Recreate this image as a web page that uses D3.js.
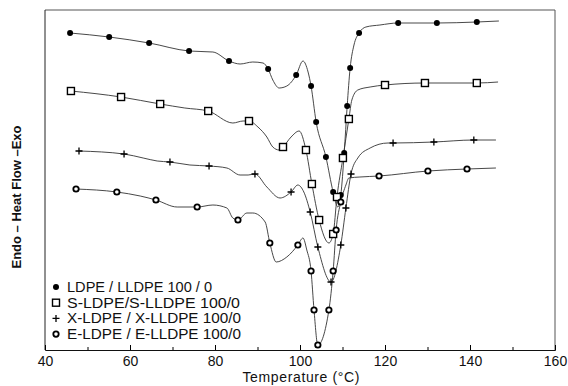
<!DOCTYPE html>
<html>
<head>
<meta charset="utf-8">
<script src="https://cdn.jsdelivr.net/npm/d3@7"></script>
<style>
  body { margin: 0; background: #fff; }
  svg { display: block; font-family: "Liberation Sans", Arial, sans-serif; }
</style>
</head>
<body>
<svg id="chart" width="568" height="386"></svg>
<script>
// DSC traces, temperature (°C) vs heat flow (arbitrary units, curves offset)
const ldpe = [[45.9,317],[55.1,313],[64.5,307],[73.9,299],[79.5,298],[83.3,289],[85.9,286],[88.9,288],[91.3,287],[92.5,281],[93.6,270],[95.1,262],[96.9,264],[99.1,275],[100.7,289],[101.9,278],[102.6,264],[103.8,228],[106.1,193],[107.8,158],[108.9,143],[109.6,155],[110.4,197],[111.1,244],[111.8,282],[112.7,305],[113.9,317],[115.5,323],[118.8,325],[123.1,327],[132.2,327],[141.6,328],[146.8,329]];
const ldpeMarks = [0,1,2,3,5,9,13,16,17,18,19,21,22,23,24,26,29,30,31];

const sLdpe = [[46.1,259],[57.9,253],[67.1,246],[72.9,242],[78.4,239],[84.2,227],[86.6,229],[88.0,229],[90.1,223],[92.2,213],[93.6,203],[95.1,200],[96.0,203],[97.9,213],[99.8,219],[101.4,200],[102.8,166],[104.5,130],[106.8,107],[107.8,116],[108.7,153],[110.1,192],[111.5,231],[112.2,250],[113.6,260],[116.5,263],[120.0,265],[129.4,267],[141.6,267],[146.6,268]];
const sLdpeMarks = [0,1,2,4,7,12,15,16,17,19,20,21,22,26,27,28];

const xLdpe = [[48.0,199],[58.6,196],[63.1,192],[66.4,189],[69.4,188],[74.1,185],[78.6,184],[82.8,182],[85.9,175],[87.8,175],[89.4,176],[92.2,163],[95.3,152],[97.9,158],[99.5,165],[100.9,158],[102.4,138],[104.2,103],[107.3,68],[109.6,105],[110.8,142],[112.0,176],[113.6,192],[116.5,202],[120.7,207],[121.9,207],[131.5,208],[140.9,210],[146.1,210]];
const xLdpeMarks = [0,1,4,6,10,13,16,17,18,19,20,21,25,26,27];

const eLdpe = [[47.3,161],[56.9,158],[62.4,154],[66.1,150],[71.1,143],[75.8,143],[79.5,145],[82.8,142],[84.2,132],[85.4,130],[87.5,137],[88.9,137],[91.8,128],[92.9,107],[94.4,88],[96.9,93],[99.5,105],[100.7,112],[101.6,100],[102.6,79],[103.3,40],[104.2,5],[106.8,40],[107.8,79],[108.5,120],[109.6,148],[110.8,165],[111.5,172],[114.1,173],[118.6,174],[130.1,179],[139.3,181],[146.1,182]];
const eLdpeMarks = [0,1,3,5,9,13,16,19,20,21,22,23,24,25,29,30,31];

const legendLabels = ["LDPE / LLDPE 100 / 0", "S-LDPE/S-LLDPE 100/0", "X-LDPE / X-LLDPE 100/0", "E-LDPE / E-LLDPE 100/0"];
const xTicks = [40, 60, 80, 100, 120, 140, 160];

const series = [
    { data: ldpe, marks: ldpeMarks, symbol: "dot" },
    { data: sLdpe, marks: sLdpeMarks, symbol: "square" },
    { data: xLdpe, marks: xLdpeMarks, symbol: "plus" },
    { data: eLdpe, marks: eLdpeMarks, symbol: "ring" }
];

const svg = d3.select("#chart");
const plotLeft = 45, plotRight = 555, plotTop = 10, plotBottom = 350;

const x = d3.scaleLinear().domain([40, 160]).range([plotLeft, plotRight]);
const y = d3.scaleLinear().domain([0, 340]).range([plotBottom, plotTop]);

// frame
svg.append("line").attr("x1", plotLeft).attr("x2", plotRight).attr("y1", plotTop).attr("y2", plotTop)
    .attr("stroke", "#555").attr("stroke-width", 1);
svg.append("line").attr("x1", plotRight).attr("x2", plotRight).attr("y1", plotTop).attr("y2", plotBottom)
    .attr("stroke", "#555").attr("stroke-width", 1);
svg.append("line").attr("x1", plotLeft).attr("x2", plotLeft).attr("y1", plotTop).attr("y2", plotBottom)
    .attr("stroke", "#222").attr("stroke-width", 1);

// x axis, ticks pointing into the plot
const xAxis = svg.append("g")
    .attr("transform", `translate(0,${plotBottom})`)
    .call(d3.axisBottom(x).tickValues(xTicks).tickSize(-5).tickPadding(6).tickFormat(d3.format("d")));
xAxis.select(".domain").attr("stroke", "#111");
xAxis.selectAll("text").attr("font-size", 14).attr("fill", "#111").attr("font-family", "Liberation Sans, Arial, sans-serif");

svg.append("g")
    .attr("transform", `translate(0,${plotBottom})`)
    .call(d3.axisBottom(x).tickValues(d3.range(50, 160, 20)).tickSize(-3).tickFormat(""))
    .call(g => g.select(".domain").remove());

svg.append("text")
    .attr("x", 301).attr("y", 382)
    .attr("text-anchor", "middle")
    .attr("font-size", 14)
    .attr("fill", "#111")
    .attr("textLength", 117)
    .text("Temperature (°C)");

svg.append("text")
    .attr("transform", "translate(21,197) rotate(-90)")
    .attr("text-anchor", "middle")
    .attr("font-size", 13)
    .attr("font-weight", "bold")
    .attr("fill", "#111")
    .text("Endo – Heat Flow –Exo");

const line = d3.line()
    .x(d => x(d[0]))
    .y(d => y(d[1]))
    .curve(d3.curveMonotoneX);

function drawSymbol(g, kind, cx, cy) {
    if (kind === "dot") {
        g.append("circle").attr("cx", cx).attr("cy", cy).attr("r", 3).attr("fill", "#000");
    } else if (kind === "square") {
        g.append("rect").attr("x", cx - 3.5).attr("y", cy - 3.5).attr("width", 7).attr("height", 7)
            .attr("fill", "#fff").attr("stroke", "#000").attr("stroke-width", 1.4);
    } else if (kind === "plus") {
        g.append("path").attr("d", `M${cx - 3.5},${cy}H${cx + 3.5}M${cx},${cy - 3.5}V${cy + 3.5}`)
            .attr("stroke", "#000").attr("stroke-width", 1.3);
    } else {
        g.append("circle").attr("cx", cx).attr("cy", cy).attr("r", 2.7)
            .attr("fill", "#fff").attr("stroke", "#000").attr("stroke-width", 1.8);
    }
}

series.forEach(s => {
    svg.append("path")
        .datum(s.data)
        .attr("d", line)
        .attr("fill", "none")
        .attr("stroke", "#333")
        .attr("stroke-width", 0.9);
});

series.forEach(s => {
    const g = svg.append("g");
    s.marks.forEach(i => {
        const p = s.data[i];
        drawSymbol(g, s.symbol, x(p[0]), y(p[1]));
    });
});

// legend
const legendWidths = [145, 173, 174, 174];
legendLabels.forEach((label, i) => {
    const ly = 287 + i * 15.7;
    const g = svg.append("g");
    drawSymbol(g, series[i].symbol, 56, ly);
    g.append("text")
        .attr("x", 67).attr("y", ly + 5)
        .attr("font-size", 14)
        .attr("fill", "#111")
        .attr("textLength", legendWidths[i])
        .attr("lengthAdjust", "spacingAndGlyphs")
        .text(label);
});
</script>
</body>
</html>
